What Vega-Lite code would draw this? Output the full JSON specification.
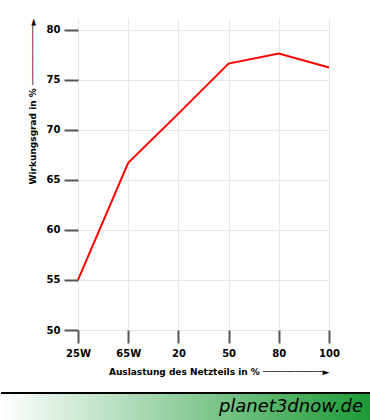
{
  "$schema": "https://vega.github.io/schema/vega-lite/v6.json",
  "padding": {"left": 0, "top": 17, "right": 0, "bottom": 0},
  "background": "white",
  "bounds": "full",
  "align": "none",
  "spacing": 16,
  "config": {
    "view": {"stroke": null},
    "font": "DejaVu Sans"
  },
  "vconcat": [
    {
      "bounds": "flush",
      "spacing": 0,
      "hconcat": [
        {
          "width": 77,
          "height": 312,
          "data": {"values": []},
          "mark": {"type": "point", "opacity": 0},
          "encoding": {}
        },
        {
          "width": 263,
          "height": 312,
          "data": {
            "values": [
              {"load": "25W", "eff": 55.0},
              {"load": "65W", "eff": 66.7},
              {"load": "20", "eff": 71.6},
              {"load": "50", "eff": 76.6},
              {"load": "80", "eff": 77.6},
              {"load": "100", "eff": 76.2}
            ]
          },
          "mark": {"type": "line", "color": "#ff0000", "strokeWidth": 2},
          "encoding": {
            "x": {
              "field": "load",
              "type": "ordinal",
              "sort": null,
              "scale": {"type": "point", "range": [0, 251], "padding": 0},
              "axis": {
                "title": "Auslastung des Netzteils in % ───────────►",
                "titleFont": "DejaVu Sans",
                "titleFontSize": 9,
                "titleFontWeight": "bold",
                "titleColor": "black",
                "titleAnchor": "end",
                "titlePadding": 9,
                "labelFont": "DejaVu Sans",
                "labelFontSize": 10,
                "labelFontWeight": "bold",
                "labelColor": "black",
                "labelAngle": 0,
                "labelPadding": 5,
                "tickSize": 13,
                "tickWidth": 2,
                "tickColor": "#555555",
                "domain": false,
                "grid": true,
                "gridColor": "#e8e8e8",
                "gridWidth": 1
              }
            },
            "y": {
              "field": "eff",
              "type": "quantitative",
              "scale": {"domain": [50, 81.15], "nice": false, "zero": false},
              "axis": {
                "values": [50, 55, 60, 65, 70, 75, 80],
                "title": "Wirkungsgrad in % ───────────►\u00a0",
                "titleFont": "DejaVu Sans",
                "titleFontSize": 9,
                "titleFontWeight": "bold",
                "titleColor": "black",
                "titleAnchor": "end",
                "titlePadding": 9,
                "labelFont": "DejaVu Sans",
                "labelFontSize": 10,
                "labelFontWeight": "bold",
                "labelColor": "black",
                "labelPadding": 4,
                "tickSize": 14,
                "tickWidth": 2,
                "tickColor": "#555555",
                "domain": false,
                "grid": true,
                "gridColor": "#e8e8e8",
                "gridWidth": 1
              }
            }
          }
        }
      ]
    },
    {
      "width": 370,
      "height": 28,
      "data": {"values": [{"site": "planet3dnow.de"}]},
      "layer": [
        {
          "mark": {
            "type": "rect",
            "color": {
              "gradient": "linear",
              "x1": 0, "y1": 0, "x2": 1, "y2": 0,
              "stops": [
                {"offset": 0, "color": "#ffffff"},
                {"offset": 1, "color": "#1c9a36"}
              ]
            }
          },
          "encoding": {
            "x": {"datum": 0, "type": "quantitative", "scale": {"domain": [0, 1], "nice": false, "zero": false}, "axis": null},
            "x2": {"datum": 1},
            "y": {"datum": 0, "type": "quantitative", "scale": {"domain": [0, 1], "nice": false, "zero": false}, "axis": null},
            "y2": {"datum": 1}
          }
        },
        {
          "mark": {"type": "rule", "color": "black", "strokeWidth": 2},
          "encoding": {
            "y": {"datum": 1, "type": "quantitative"}
          }
        },
        {
          "mark": {
            "type": "text",
            "align": "right",
            "baseline": "middle",
            "dx": -8,
            "font": "DejaVu Sans",
            "fontSize": 18,
            "fontWeight": "normal",
            "fontStyle": "italic",
            "color": "black"
          },
          "encoding": {
            "x": {"datum": 1, "type": "quantitative"},
            "text": {"field": "site", "type": "nominal"}
          }
        }
      ]
    }
  ]
}
